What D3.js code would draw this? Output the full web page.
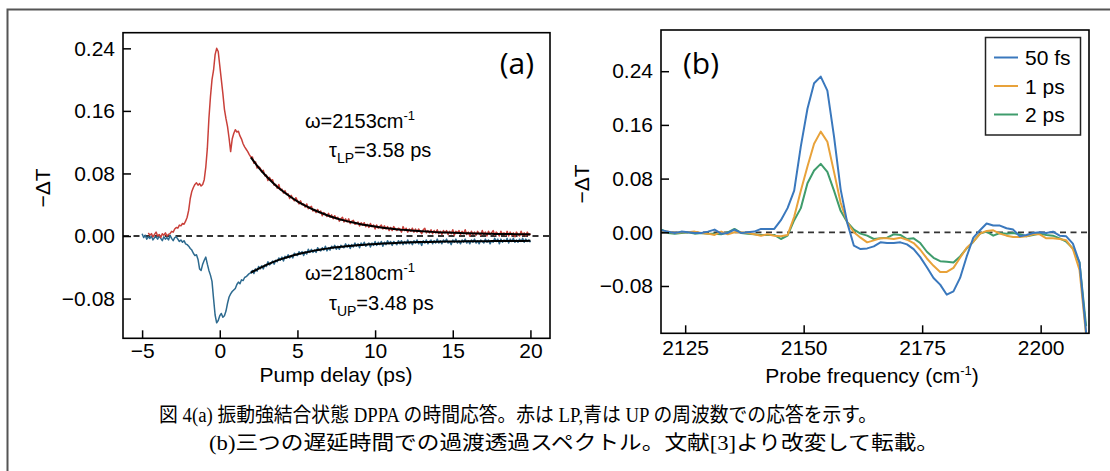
<!DOCTYPE html>
<html><head><meta charset="utf-8">
<script src="https://cdn.jsdelivr.net/npm/d3@7"></script>
<style>body{margin:0;background:#fff}</style>
</head><body>
<svg id="c" width="1110" height="471"></svg>
<script>
// ---------- DATA ----------
// Panel (a): pump delay grid from -5.0 to 20.0 ps (0.1 ps spacing)
const delayStart = -5.0, delayStep = 0.1, delayCount = 251;
const lpSignal = [null,null,null,null,
0.004,0.001,0.003,-0.001,0.002,0.005,0.000,
0.002,-0.002,0.003,0.001,0.004,0.000,0.002,0.003,0.006,0.005,
0.009,0.011,0.010,0.014,0.013,0.016,0.015,0.019,0.024,0.033,
0.048,0.057,0.062,0.066,0.068,0.065,0.067,0.064,0.066,0.072,
0.088,0.112,0.150,0.178,0.200,0.212,0.232,0.240,0.236,0.218,
0.200,0.182,0.162,0.150,0.140,0.125,0.108,0.124,0.131,0.136,
0.133,0.134,0.128,0.124,0.118,0.114,0.111,0.108,0.104,0.101,
0.101,0.093,0.095,0.087,0.089,0.087,0.082,0.084,0.077,0.078,
0.071,0.075,0.071,0.072,0.065,0.066,0.061,0.066,0.059,0.060,
0.055,0.058,0.053,0.054,0.048,0.052,0.048,0.045,0.049,0.045,
0.041,0.045,0.040,0.041,0.037,0.041,0.035,0.037,0.038,0.032,
0.034,0.030,0.034,0.030,0.032,0.026,0.030,0.028,0.025,0.029,
0.024,0.027,0.022,0.026,0.022,0.024,0.019,0.022,0.024,0.018,
0.022,0.018,0.022,0.016,0.019,0.020,0.015,0.016,0.018,0.013,
0.017,0.014,0.017,0.012,0.015,0.011,0.016,0.012,0.014,0.009,
0.014,0.010,0.012,0.014,0.009,0.013,0.009,0.012,0.007,0.011,
0.007,0.012,0.009,0.007,0.010,0.009,0.005,0.012,0.007,0.010,
0.005,0.009,0.006,0.010,0.005,0.009,0.005,0.009,0.006,0.003,
0.008,0.010,0.004,0.007,0.004,0.008,0.003,0.007,0.004,0.008,
0.003,0.006,0.002,0.007,0.004,0.007,0.002,0.006,0.003,0.008,
0.001,0.006,0.004,0.007,0.002,0.006,0.003,0.008,0.002,0.005,
0.000,0.006,0.002,0.005,0.001,0.006,0.003,0.001,0.007,0.002,
0.005,0.000,0.006,0.002,0.004,0.007,0.001,0.005,0.003,0.000,
0.006,0.002,0.004,0.001,0.006,0.000,0.005,0.001,0.004,-0.001,
0.005,0.002,0.000,0.006,0.001,0.004,0.000,0.005,0.001,0.003];
const upSignal = [
0.003,-0.002,0.001,-0.004,-0.001,-0.003,0.000,-0.005,-0.002,-0.001,
-0.004,0.000,-0.003,-0.006,-0.001,-0.004,-0.002,-0.005,0.001,-0.003,
-0.006,-0.002,-0.001,-0.004,-0.007,-0.005,-0.008,-0.006,-0.010,-0.011,
-0.013,-0.016,-0.018,-0.022,-0.025,-0.024,-0.030,-0.042,-0.044,-0.036,
-0.031,-0.027,-0.036,-0.044,-0.050,-0.058,-0.080,-0.101,-0.111,-0.108,
-0.102,-0.099,-0.104,-0.102,-0.096,-0.086,-0.078,-0.074,-0.071,-0.069,
-0.067,-0.062,-0.059,-0.061,-0.056,-0.057,-0.053,-0.052,-0.050,-0.048,
-0.047,-0.044,-0.048,-0.042,-0.045,-0.039,-0.042,-0.038,-0.042,-0.037,
-0.039,-0.033,-0.037,-0.035,-0.032,-0.036,-0.031,-0.033,-0.028,-0.031,
-0.027,-0.032,-0.026,-0.028,-0.024,-0.028,-0.025,-0.028,-0.022,-0.024,
-0.025,-0.020,-0.023,-0.020,-0.025,-0.020,-0.023,-0.017,-0.021,-0.017,
-0.021,-0.018,-0.021,-0.015,-0.018,-0.019,-0.015,-0.018,-0.013,-0.019,
-0.015,-0.018,-0.013,-0.016,-0.012,-0.017,-0.013,-0.017,-0.012,-0.014,
-0.015,-0.010,-0.014,-0.011,-0.016,-0.011,-0.014,-0.009,-0.013,-0.010,
-0.015,-0.009,-0.012,-0.008,-0.013,-0.011,-0.009,-0.014,-0.009,-0.012,
-0.007,-0.012,-0.008,-0.011,-0.007,-0.013,-0.008,-0.011,-0.006,-0.010,
-0.007,-0.012,-0.007,-0.009,-0.011,-0.006,-0.010,-0.006,-0.011,-0.007,
-0.010,-0.005,-0.010,-0.007,-0.011,-0.006,-0.009,-0.005,-0.010,-0.007,
-0.012,-0.006,-0.009,-0.005,-0.010,-0.007,-0.005,-0.010,-0.006,-0.009,
-0.004,-0.009,-0.006,-0.010,-0.005,-0.008,-0.004,-0.009,-0.007,-0.011,
-0.005,-0.008,-0.004,-0.009,-0.006,-0.010,-0.005,-0.008,-0.004,-0.009,
-0.006,-0.010,-0.005,-0.008,-0.004,-0.009,-0.006,-0.010,-0.005,-0.007,
-0.009,-0.004,-0.008,-0.005,-0.010,-0.006,-0.008,-0.003,-0.007,-0.004,
-0.010,-0.004,-0.008,-0.005,-0.007,-0.003,-0.009,-0.004,-0.007,-0.003,
-0.008,-0.005,-0.008,-0.004,-0.007,-0.003,-0.008,-0.004,-0.007,-0.005,
-0.008];
// exponential fits, 2.0 .. 20.0 ps every 0.5 ps
const fitStart = 2.0, fitStep = 0.5;
const lpFit = [0.1005,0.0876,0.0764,0.0666,0.0581,0.0508,0.0443,0.0388,0.0339,0.0297,0.0260,0.0228,0.0200,0.0176,0.0155,0.0137,0.0121,0.0107,0.0096,0.0084,0.0076,0.0068,0.0061,0.0055,0.0049,0.0045,0.0041,0.0038,0.0035,0.0032,0.0030,0.0028,0.0026,0.0025,0.0024,0.0023,0.0022];
const upFit = [-0.0470,-0.0417,-0.0369,-0.0328,-0.0292,-0.0261,-0.0234,-0.0211,-0.0190,-0.0173,-0.0158,-0.0145,-0.0133,-0.0124,-0.0115,-0.0108,-0.0101,-0.0096,-0.0091,-0.0087,-0.0083,-0.0080,-0.0077,-0.0075,-0.0073,-0.0071,-0.0070,-0.0069,-0.0067,-0.0066,-0.0066,-0.0065,-0.0064,-0.0064,-0.0063,-0.0063,-0.0062];
const leftXTicks = [-5, 0, 5, 10, 15, 20];
const leftYTicks = [-0.08, 0.00, 0.08, 0.16, 0.24];

// Panel (b): probe frequency grid 2120.0 .. 2209.6 cm-1 (1.4 cm-1 spacing)
const freqStart = 2120.0, freqStep = 1.4, freqCount = 65;
const spec50fs = [0.003,0.001,-0.001,0.001,0.000,-0.001,-0.001,0.001,0.004,-0.002,
-0.001,0.004,-0.001,0.000,0.001,0.005,0.005,0.005,0.018,0.036,
0.062,0.128,0.184,0.222,0.232,0.211,0.143,0.064,0.014,-0.020,
-0.025,-0.024,-0.021,-0.015,-0.016,-0.016,-0.015,-0.018,-0.025,-0.037,
-0.052,-0.068,-0.078,-0.093,-0.088,-0.068,-0.036,-0.008,0.003,0.013,
0.010,0.010,0.006,0.004,-0.006,-0.004,-0.001,0.000,-0.001,0.001,
-0.005,-0.006,-0.017,-0.045,-0.150];
const spec1ps = [0.000,0.001,-0.001,0.000,0.000,0.001,-0.001,-0.002,-0.004,0.001,
-0.003,0.000,0.000,-0.001,-0.003,-0.005,-0.003,-0.005,-0.006,-0.004,
0.023,0.062,0.098,0.132,0.150,0.135,0.090,0.044,0.015,0.000,
-0.008,-0.015,-0.012,-0.009,-0.009,-0.010,-0.008,-0.011,-0.016,-0.026,
-0.039,-0.050,-0.059,-0.059,-0.053,-0.038,-0.023,-0.014,-0.002,0.002,
0.003,-0.002,-0.005,-0.007,-0.007,-0.006,-0.003,-0.003,-0.009,-0.009,
-0.010,-0.012,-0.025,-0.056,-0.155];
const spec2ps = [0.004,-0.001,-0.002,-0.001,0.000,-0.002,-0.001,-0.002,-0.002,-0.003,
0.000,0.005,-0.001,-0.002,-0.003,-0.004,-0.004,-0.004,-0.010,-0.005,
0.018,0.036,0.073,0.092,0.102,0.090,0.062,0.032,0.015,0.004,
-0.002,-0.005,-0.010,-0.009,-0.008,-0.003,-0.004,-0.010,-0.009,-0.016,
-0.029,-0.038,-0.043,-0.044,-0.045,-0.036,-0.024,-0.014,-0.002,0.001,
-0.005,-0.001,-0.002,-0.001,-0.003,-0.006,-0.004,-0.002,-0.004,-0.005,
-0.009,-0.014,-0.024,-0.045,-0.140];
const seriesNames = ["50 fs", "1 ps", "2 ps"];
const rightXTicks = [2125, 2150, 2175, 2200];
const rightYTicks = [-0.08, 0.00, 0.08, 0.16, 0.24];

const captionLines = [
  "図 4(a)  振動強結合状態 DPPA の時間応答。赤は LP,青は UP の周波数での応答を示す。",
  "(b)三つの遅延時間での過渡透過スペクトル。文献[3]より改変して転載。"
];

// ---------- DRAW ----------
const svg = d3.select("#c");
const SANS = "'Liberation Sans', Arial, Helvetica, sans-serif";
const fmt2 = d3.format(".2f");

svg.append("path").attr("d", "M7.5,471V9.5H1111").attr("fill", "none")
   .attr("stroke", "#555").attr("stroke-width", 2);

const delays = d3.range(delayCount).map(i => +(delayStart + i * delayStep).toFixed(2));
const fitDelays = d3.range(lpFit.length).map(i => fitStart + i * fitStep);
const freqs = d3.range(freqCount).map(i => +(freqStart + i * freqStep).toFixed(2));

function drawAxes(x, y, xt, yt, xfmt, bottom, padX) {
  const gx = svg.append("g").attr("transform", `translate(0,${bottom})`)
    .call(d3.axisBottom(x).tickValues(xt).tickFormat(xfmt).tickSizeInner(-8).tickSizeOuter(0).tickPadding(padX));
  const gy = svg.append("g").attr("transform", `translate(${x.range()[0]},0)`)
    .call(d3.axisLeft(y).tickValues(yt).tickFormat(fmt2).tickSizeInner(-8).tickSizeOuter(0).tickPadding(8));
  [gx, gy].forEach(g => {
    g.select(".domain").remove();
    g.selectAll("line").attr("stroke", "#000").attr("stroke-width", 1.5);
    g.selectAll("text").attr("font-family", SANS).attr("font-size", 21).attr("fill", "#000");
  });
}
function box(x, y) {
  const [x0, x1] = x.range(), [y1, y0] = y.range();
  svg.append("rect").attr("x", x0).attr("y", y0).attr("width", x1 - x0).attr("height", y1 - y0)
    .attr("fill", "none").attr("stroke", "#000").attr("stroke-width", 1.6);
}
function zeroLine(x, y) {
  svg.append("line").attr("x1", x.range()[0]).attr("x2", x.range()[1])
    .attr("y1", y(0)).attr("y2", y(0)).attr("stroke", "#333").attr("stroke-width", 1.8)
    .attr("stroke-dasharray", "6,4.5");
}
function clip(id, x, y) {
  const [x0, x1] = x.range(), [y1, y0] = y.range();
  svg.append("clipPath").attr("id", id).append("rect")
    .attr("x", x0).attr("y", y0).attr("width", x1 - x0).attr("height", y1 - y0);
}

// ----- panel (a)
const xL = d3.scaleLinear().domain([-6.23, 21.26]).range([123, 550]);
const yL = d3.scaleLinear().domain([-0.1308, 0.26]).range([338.3, 32.7]);
clip("clipL", xL, yL);
zeroLine(xL, yL);
const lineL = d3.line().defined(d => d[1] != null).x(d => xL(d[0])).y(d => yL(d[1]));
const gL = svg.append("g").attr("clip-path", "url(#clipL)");
gL.append("path").datum(delays.map((t, i) => [t, upSignal[i]])).attr("d", lineL)
  .attr("fill", "none").attr("stroke", "#2d6a8f").attr("stroke-width", 1.5).attr("stroke-linejoin", "round");
gL.append("path").datum(delays.map((t, i) => [t, lpSignal[i]])).attr("d", lineL)
  .attr("fill", "none").attr("stroke", "#c9403a").attr("stroke-width", 1.5).attr("stroke-linejoin", "round");
const fitLine = d3.line().curve(d3.curveMonotoneX).x(d => xL(d[0])).y(d => yL(d[1]));
[lpFit, upFit].forEach(f => gL.append("path").datum(fitDelays.map((t, i) => [t, f[i]])).attr("d", fitLine)
  .attr("fill", "none").attr("stroke", "#000").attr("stroke-width", 2));
box(xL, yL);
drawAxes(xL, yL, leftXTicks, leftYTicks, d3.format("d"), 338.3, 5);

// ----- panel (b)
const xR = d3.scaleLinear().domain([2119.9, 2210.2]).range([661, 1089]);
const yR = d3.scaleLinear().domain([-0.1505, 0.3014]).range([333.3, 30]);
clip("clipR", xR, yR);
zeroLine(xR, yR);
const colors = ["#3a78bd", "#e8a23a", "#3f9c6c"];
const specs = [spec50fs, spec1ps, spec2ps];
const lineR = d3.line().x(d => xR(d[0])).y(d => yR(d[1]));
const gR = svg.append("g").attr("clip-path", "url(#clipR)");
[2, 1, 0].forEach(k => gR.append("path").datum(freqs.map((f, i) => [f, specs[k][i]])).attr("d", lineR)
  .attr("fill", "none").attr("stroke", colors[k]).attr("stroke-width", 2).attr("stroke-linejoin", "round"));
box(xR, yR);
drawAxes(xR, yR, rightXTicks, rightYTicks, d3.format("d"), 333.3, 7);

// legend
const lg = svg.append("g");
lg.append("rect").attr("x", 985.5).attr("y", 37.5).attr("width", 95).attr("height", 97.5)
  .attr("fill", "#fff").attr("stroke", "#222").attr("stroke-width", 1.5);
seriesNames.forEach((n, k) => {
  const yy = 57.5 + k * 28.5;
  lg.append("line").attr("x1", 994).attr("x2", 1018).attr("y1", yy).attr("y2", yy)
    .attr("stroke", colors[k]).attr("stroke-width", 2);
  lg.append("text").attr("x", 1025).attr("y", yy).attr("dy", "0.36em").text(n)
    .attr("font-family", SANS).attr("font-size", 21);
});

// axis titles
function t(x, y, s, size, anchor) {
  return svg.append("text").attr("x", x).attr("y", y).attr("font-family", SANS)
    .attr("font-size", size).attr("text-anchor", anchor || "start").text(s);
}
t(336, 382, "Pump delay (ps)", 21, "middle");
const pf = t(872, 383, "Probe frequency (cm", 21, "middle");
pf.append("tspan").attr("font-size", 13).attr("dy", -8).text("-1");
pf.append("tspan").attr("dy", 8).text(")");
[[42, 188], [581, 184]].forEach(([x, y]) => {
  svg.append("text").attr("transform", `translate(${x},${y}) rotate(-90)`)
    .attr("text-anchor", "middle").attr("dy", "0.36em").attr("font-family", SANS)
    .attr("font-size", 21).text("−ΔT");
});
// panel letters
t(534, 74, "(a)", 30, "end").attr("font-family", "'Open Sans', sans-serif");
t(683, 74, "(b)", 30, "start").attr("font-family", "'Open Sans', sans-serif");

// annotations
function omega(x, y, val) {
  const e = t(x, y, "ω=" + val + "cm", 20);
  e.append("tspan").attr("font-size", 13).attr("dy", -8).text("-1");
}
function tau(x, y, sub, val) {
  const e = t(x, y, "τ", 20);
  e.append("tspan").attr("font-size", 14).attr("dy", 6).text(sub);
  e.append("tspan").attr("dy", -6).text("=" + val + " ps");
}
omega(305, 128, "2153");
tau(329, 157, "LP", "3.58");
omega(305, 280, "2180");
tau(329, 310, "UP", "3.48");

// caption
const CAP = "'Liberation Serif', 'Noto Sans CJK JP', serif";
svg.append("text").attr("x", 159).attr("y", 422).attr("font-family", CAP).attr("font-size", 20)
  .attr("textLength", 718).attr("lengthAdjust", "spacingAndGlyphs").text(captionLines[0]);
svg.append("text").attr("x", 209).attr("y", 450).attr("font-family", CAP).attr("font-size", 20)
  .attr("textLength", 730).attr("lengthAdjust", "spacingAndGlyphs").text(captionLines[1]);
</script>
</body></html>
